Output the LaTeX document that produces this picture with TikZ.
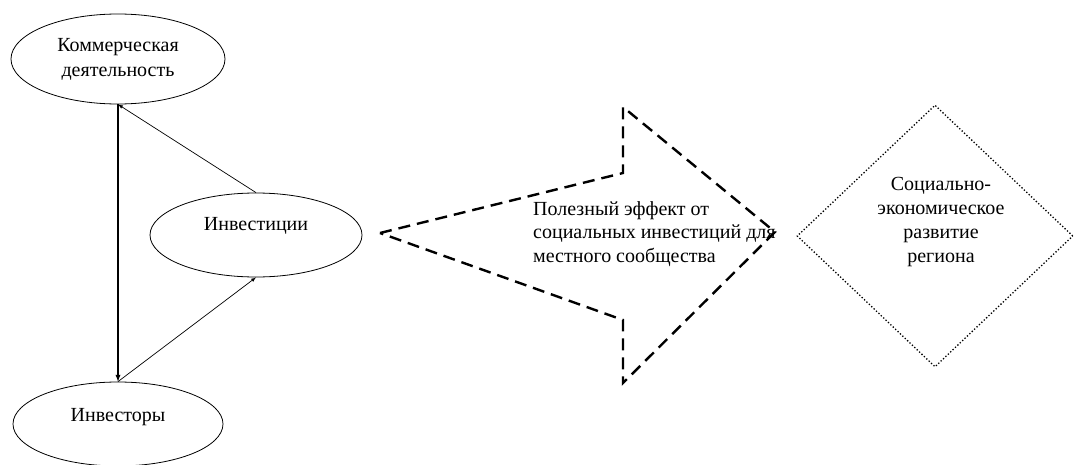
\documentclass[tikz,border=0pt]{standalone}
\usepackage{fontspec}
\setmainfont{Liberation Serif}
\usetikzlibrary{arrows,positioning,shapes}

\begin{document}
\begin{tikzpicture}[x=1pt,y=-1pt,
  every node/.style={font=\fontsize{20}{25}\selectfont,inner sep=0pt},
  oval/.style={ellipse,draw,line width=0.8pt,minimum width=214pt,minimum height=90pt,align=center},
  link/.style={-latex,line width=0.7pt},
  effect/.style={line width=2.4pt,dash pattern=on 12pt off 7pt},
  region/.style={diamond,draw,dotted,line width=1.3pt,minimum width=276pt,minimum height=262pt}]
  \useasboundingbox (0,0) rectangle (1075,465);

  % Ellipse nodes
  \node[oval] (kom) at (118,59) {Коммерческая\\деятельность};
  \node[oval,minimum width=212pt,minimum height=84pt,text height=14pt,text depth=24pt] (inv) at (256,235) {Инвестиции};
  \node[oval,minimum width=210pt,minimum height=84pt,text height=14pt,text depth=20pt] (inr) at (118,424) {Инвесторы};

  % Big dashed arrow
  \draw[effect] (380,233) -- (623,173) -- (623,107) -- (775,232) -- (623,383) -- (623,320) -- cycle;
  \node[anchor=west,align=left,font=\fontsize{20}{23.5}\selectfont] (eff) at (533,234) {Полезный эффект от\\социальных инвестиций для\\местного сообщества};

  % Diamond
  \node[region] (reg) at (935,236) {};
  \node[align=center,font=\fontsize{20}{24}\selectfont] (regtxt) at (941,222) {Социально-\\экономическое\\развитие\\региона};

  % Connectors
  \draw[link] (inv.north) -- (kom.south);
  \draw[link,line width=1.3pt] (kom.south) -- (inr.north);
  \draw[link] (inr.north) -- (inv.south);
\end{tikzpicture}
\end{document}
